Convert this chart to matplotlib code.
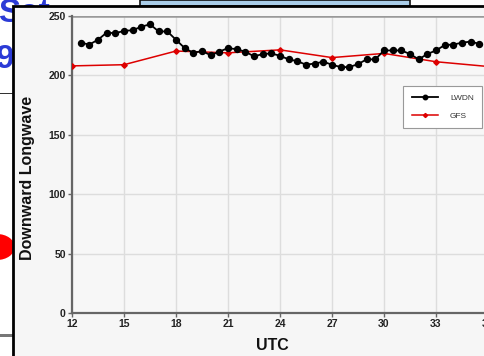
import matplotlib.pyplot as plt
from matplotlib.patches import Rectangle, Circle

# LWDN observations, every half hour (UTC, hours past 00Z of day 1)
lwdn_hours = [12.5, 13.0, 13.5, 14.0, 14.5, 15.0, 15.5, 16.0, 16.5, 17.0,
              17.5, 18.0, 18.5, 19.0, 19.5, 20.0, 20.5, 21.0, 21.5, 22.0,
              22.5, 23.0, 23.5, 24.0, 24.5, 25.0, 25.5, 26.0, 26.5, 27.0,
              27.5, 28.0, 28.5, 29.0, 29.5, 30.0, 30.5, 31.0, 31.5, 32.0,
              32.5, 33.0, 33.5, 34.0, 34.5, 35.0, 35.5]
lwdn_values = [227.5, 226, 230, 236, 235.5, 237.5, 238, 241, 243, 237,
               237, 230, 223, 219, 220.5, 217, 220, 223, 222, 220,
               216, 218, 218.5, 216.5, 213.5, 212, 209, 210, 211.5, 209,
               207, 207, 209.5, 213.5, 213.5, 221, 221, 221, 218, 213.5,
               218, 221, 225.5, 226, 227.5, 228.5, 226.5]

# GFS forecast, every 3 hours
gfs_hours = [12, 15, 18, 21, 24, 27, 30, 33, 36]
gfs_values = [208, 209, 220.5, 219, 221.5, 215, 218.5, 211.5, 207.5]

x_ticks = [12, 15, 18, 21, 24, 27, 30, 33, 36]
y_ticks = [0, 50, 100, 150, 200, 250]

W, H = 485, 356
fig = plt.figure(figsize=(W / 100, H / 100), dpi=100)
fig.patch.set_facecolor("white")

# bits of the slide behind the chart panel
fig.text(-2 / W, 1 - 22 / H, "Sat", color="#2b3bd6", fontsize=24,
         fontweight="bold", family="Liberation Sans", va="baseline",
         zorder=0.5)
fig.text(-4 / W, 1 - 68 / H, "9.", color="#2b3bd6", fontsize=24,
         fontweight="bold", family="Liberation Sans", va="baseline",
         zorder=0.5)
fig.patches.append(Rectangle((140 / W, 1 - 6 / H), 270 / W, 6 / H,
                             transform=fig.transFigure, facecolor="#a9cde9",
                             edgecolor="#111111", linewidth=1.2, zorder=1))
fig.patches.append(Rectangle((0, 1 - 94 / H), 14 / W, 1.5 / H,
                             transform=fig.transFigure, facecolor="#333333",
                             edgecolor="none", zorder=1))
fig.patches.append(Rectangle((0, 1 - 337 / H), 14 / W, 3 / H,
                             transform=fig.transFigure, facecolor="#777777",
                             edgecolor="none", zorder=1))
fig.patches.append(Circle((-3 / W, 1 - 247 / H), 13 / H,
                          transform=fig.transFigure, facecolor="#ff0000",
                          edgecolor="none", zorder=1))

# chart panel with black frame
fig.patches.append(Rectangle((13 / W, -0.05), 1.0, 1.05 - 6 / H,
                             transform=fig.transFigure, facecolor="#f6f6f6",
                             edgecolor="black", linewidth=2.0, zorder=2))

ax = fig.add_axes([72 / W, 43 / H, 416 / W, 297 / H], zorder=3)
ax.set_facecolor("#f7f7f7")

ax.plot(lwdn_hours, lwdn_values, color="black", linewidth=1.3,
        marker="o", markersize=4.3, label="LWDN", zorder=4)
ax.plot(gfs_hours, gfs_values, color="#dd0000", linewidth=1.1,
        marker="D", markersize=2.8, label="GFS", zorder=3)

ax.set_xlim(12, 36)
ax.set_ylim(0, 250)
ax.set_xticks(x_ticks)
ax.set_yticks(y_ticks)
ax.grid(True, color="#dddddd", linewidth=1.0)
ax.set_axisbelow(True)

for side in ["top", "right"]:
    ax.spines[side].set_visible(False)
for side in ["left", "bottom"]:
    ax.spines[side].set_color("#666666")
    ax.spines[side].set_linewidth(1.6)
ax.axhline(250, color="#999999", linewidth=1.8, zorder=2)

ax.tick_params(axis="both", colors="#666666", length=3, width=1,
               labelcolor="#222222", labelsize=7.5, pad=1.5)
for lbl in ax.get_xticklabels() + ax.get_yticklabels():
    lbl.set_family("Liberation Sans")
    lbl.set_fontweight("bold")

fig.text(272 / W, 1 - 346 / H, "UTC", ha="center", va="center",
         fontsize=11.5, fontweight="bold", family="Liberation Sans",
         color="#111111")
fig.text(28 / W, 1 - 178 / H, "Downward Longwave", ha="center", va="center",
         rotation=90, fontsize=11.5, fontweight="bold",
         family="Liberation Sans", color="#111111")

leg = ax.legend(loc="upper right", bbox_to_anchor=(482 / W, 1 - 86 / H),
                bbox_transform=fig.transFigure, fontsize=6, frameon=True,
                fancybox=False, edgecolor="#999999", facecolor="white",
                framealpha=1, handlelength=3.2, borderpad=1.0,
                labelspacing=1.2, handletextpad=1.4, borderaxespad=0,
                markerscale=0.75)
leg.get_frame().set_linewidth(0.8)
for t in leg.get_texts():
    t.set_color("#333333")
    t.set_family("Liberation Sans")

fig.savefig("out.png", dpi=100)
